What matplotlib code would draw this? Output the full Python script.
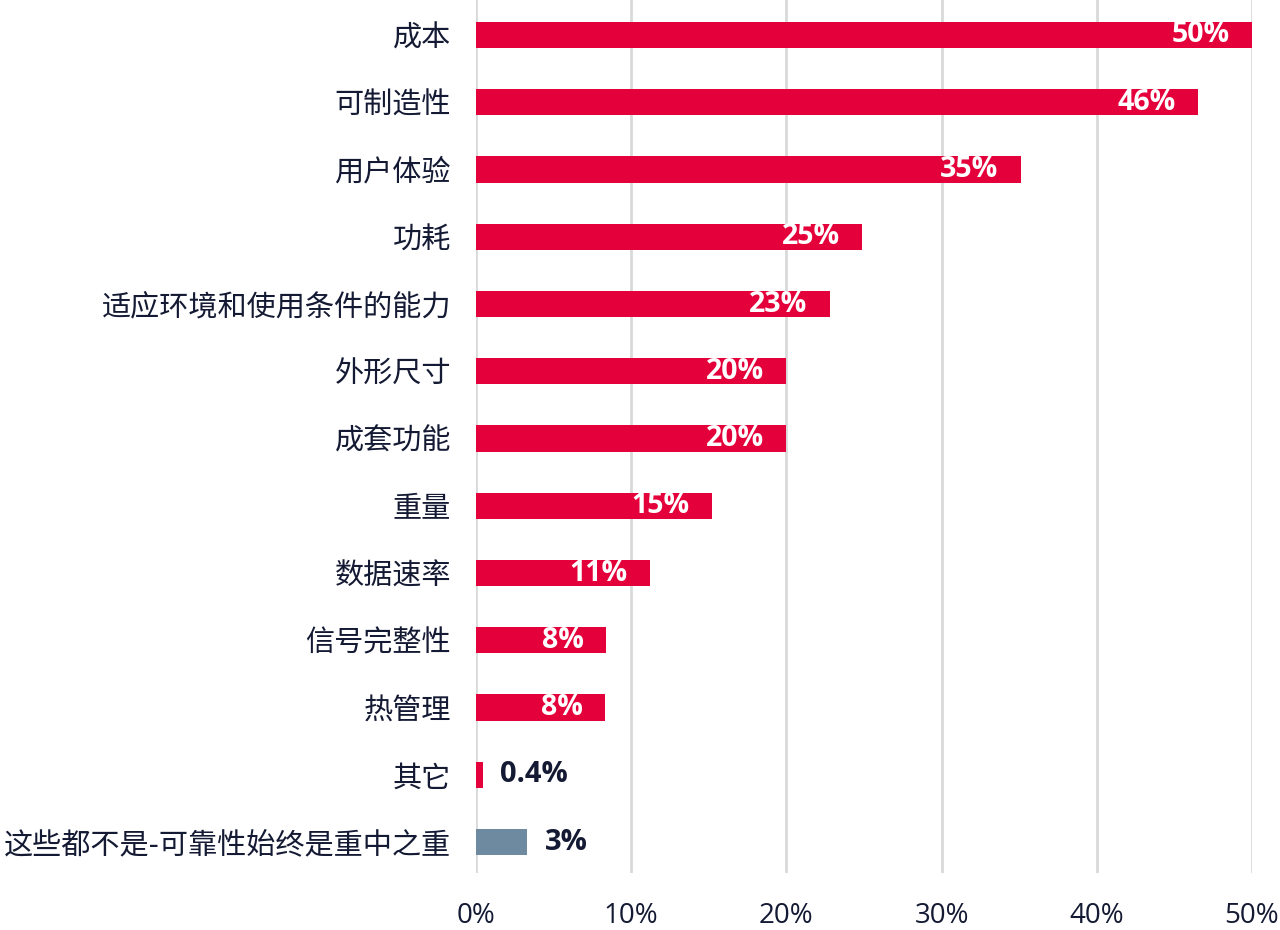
import matplotlib
matplotlib.use("Agg")
import matplotlib.pyplot as plt

categories = ["成本", "可制造性", "用户体验", "功耗", "适应环境和使用条件的能力", "外形尺寸",
              "成套功能", "重量", "数据速率", "信号完整性", "热管理", "其它",
              "这些都不是-可靠性始终是重中之重"]
values = [50.0, 46.5, 35.1, 24.9, 22.8, 20.0, 20.0, 15.2, 11.2, 8.4, 8.3, 0.45, 3.3]
labels = ["50%", "46%", "35%", "25%", "23%", "20%", "20%", "15%", "11%", "8%", "8%", "0.4%", "3%"]
inside = [True] * 11 + [False, False]

RED = "#e4003a"
GREY = "#6e8aa0"
DARK = "#141a33"

fig = plt.figure(figsize=(12.8, 9.3), dpi=100)
ax = fig.add_axes([476 / 1280, 57 / 930, 776 / 1280, 873 / 930])

ypos = list(range(len(categories)))
colors = [RED] * 12 + [GREY]
ax.barh(ypos, values, height=0.39, color=colors, zorder=3)

for y, v, lab, ins in zip(ypos, values, labels, inside):
    if ins:
        ax.annotate(lab, (v, y), xytext=(-16, 0), textcoords="offset points",
                    ha="right", va="center", color="white", fontsize=20.5,
                    fontweight="bold", family="Open Sans", zorder=4)
    else:
        ax.annotate(lab, (v, y), xytext=(12.5, 0), textcoords="offset points",
                    ha="left", va="center", color=DARK, fontsize=21,
                    fontweight="bold", family="Open Sans", zorder=4)

ax.set_xlim(0, 50)
ax.set_ylim(12.46, -0.52)
ax.set_xticks(range(0, 51, 10))
ax.set_xticklabels([f"{t}%" for t in range(0, 51, 10)], family="Open Sans",
                   fontsize=20, color=DARK)
ax.set_yticks(ypos)
ax.set_yticklabels(categories, family=["Noto Sans CJK SC", "DejaVu Sans"],
                   fontsize=21, fontweight="light", color=DARK)
ax.tick_params(axis="both", length=0)
ax.tick_params(axis="y", pad=18)
ax.tick_params(axis="x", pad=21)
ax.grid(axis="x", color="#d9d9d9", linewidth=2, zorder=0)
for s in ax.spines.values():
    s.set_visible(False)

fig.savefig("out.png", dpi=100)
